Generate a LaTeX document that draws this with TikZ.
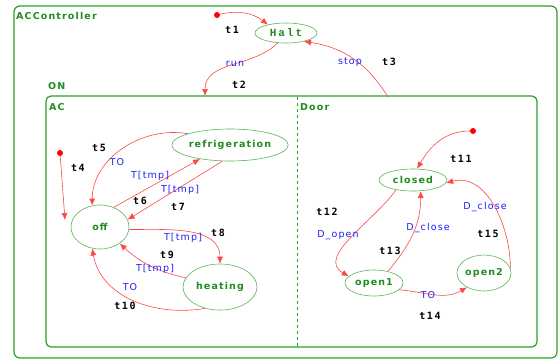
\documentclass[tikz,border=0pt]{standalone}
\usepackage{fontspec}
\setmainfont{DejaVu Sans}
\newfontfamily\statefont[LetterSpace=12]{DejaVu Sans}
\newfontfamily\haltfont[LetterSpace=18]{Liberation Mono}
\newfontfamily\evfont[LetterSpace=12]{DejaVu Sans}
\newfontfamily\tnfont[LetterSpace=15]{DejaVu Sans Mono}
\usetikzlibrary{shapes.geometric,arrows.meta}

\definecolor{boxgreen}{RGB}{40,160,40}
\definecolor{stgreen}{RGB}{90,180,90}
\definecolor{txtgreen}{RGB}{30,140,30}
\definecolor{trred}{RGB}{255,70,70}
\definecolor{evblue}{RGB}{30,30,250}

\tikzset{
    region/.style={draw=boxgreen, line width=1.2pt, rounded corners=6pt},
    regname/.style={anchor=west, text=txtgreen, inner sep=0pt,
        font=\statefont\bfseries\fontsize{9.5}{11}\selectfont},
    state/.style={ellipse, draw=stgreen, line width=0.6pt, text=txtgreen, inner sep=0pt,
        font=\statefont\bfseries\fontsize{9.5}{11}\selectfont},
    initdot/.style={circle, fill=red, inner sep=0pt, minimum size=6pt},
    trans/.style={draw=trred, line width=0.6pt, -{Latex[length=7pt,width=6pt]}},
    event/.style={text=evblue, inner sep=0pt, font=\evfont\fontsize{9.5}{11}\selectfont},
    tname/.style={text=black, inner sep=0pt, font=\tnfont\bfseries\fontsize{10}{11}\selectfont}
}

\begin{document}
\begin{tikzpicture}[x=1pt,y=1pt]
        \useasboundingbox (0,0) rectangle (560,-360);

        % regions
        \draw[region] (14,-6) rectangle (557,-358);
        \draw[region, rounded corners=5pt] (46,-96) rectangle (537,-347);
        \draw[boxgreen, dashed, line width=0.8pt] (297,-97) -- (297,-347);

        % region names
        \node[regname] (nctrl) at (16,-16) {ACController};
        \node[regname] (non) at (48,-86) {ON};
        \node[regname] (nac) at (49,-107) {AC};
        \node[regname] (ndoor) at (300,-107) {Door};

        % states
        \node[state, minimum width=62pt, minimum height=20pt, font=\haltfont\bfseries\fontsize{11}{12}\selectfont] (halt) at (286,-33) {Halt};
        \node[state, minimum width=102pt, minimum height=32pt] (refrig) at (230,-145) {refrigeration};
        \node[state, minimum width=58pt, minimum height=44pt] (off) at (100,-227) {off};
        \node[state, minimum width=74pt, minimum height=46pt] (heating) at (220,-287) {heating};
        \node[state, minimum width=68pt, minimum height=22pt] (closed) at (413,-180) {closed};
        \node[state, minimum width=58pt, minimum height=26pt] (open1) at (374,-283) {open1};
        \node[state, minimum width=54pt, minimum height=36pt] (open2) at (484,-273) {open2};

        % initial
        \node[initdot] (init1) at (217,-15) {};
        \node[initdot] (init4) at (60,-153) {};
        \node[initdot] (init11) at (473,-131) {};
        \coordinate (ontop) at (205,-96);
        \coordinate (doortop) at (388,-97);
        \coordinate (offin) at (65,-220);

        % top level
        \draw[trans] (init1) to[bend left=25] (halt.155);
        \draw[trans] (halt.230) to[out=225,in=90] (ontop);
        \draw[trans] (doortop) to[bend right=25] (halt.-25);

        % AC
        \draw[trans] (init4) -- (offin);
        \draw[trans] (refrig.165) to[out=170,in=90] (off.110);
        \draw[trans] (off.55) -- (refrig.205);
        \draw[trans] (refrig.245) -- (off.15);
        \draw[trans] (off.-5) to[out=0,in=90] (heating.north);
        \draw[trans] (heating.165) to[bend left=15] (off.-40);
        \draw[trans] (heating.235) to[out=190,in=-80] (off.250);

        % Door
        \draw[trans] (init11) to[out=180,in=60] (closed.70);
        \draw[trans] (closed.210) to[out=235,in=150] (open1.165);
        \draw[trans] (open1.40) to[out=50,in=-90] (closed.-55);
        \draw[trans] (open1.-15) to[out=-5,in=210] (open2.220);
        \draw[trans] (open2.10) to[out=90,in=15] (closed.-5);

        % events
        \node[event] (ev2) at (235,-64) {run};
        \node[event] (ev3) at (350,-62) {stop};
        \node[event] (ev5) at (117,-162) {TO};
        \node[event] (ev6) at (150,-176) {T[tmp]};
        \node[event] (ev7) at (180,-190) {T[tmp]};
        \node[event] (ev8) at (183,-238) {T[tmp]};
        \node[event] (ev9) at (155,-269) {T[tmp]};
        \node[event] (ev10) at (130,-287) {TO};
        \node[event] (ev12) at (338,-235) {D\_open};
        \node[event] (ev13) at (428,-228) {D\_close};
        \node[event] (ev14) at (428,-295) {TO};
        \node[event] (ev15) at (485,-207) {D\_close};

        % transition names
        \node[tname] (lt1) at (232,-30) {t1};
        \node[tname] (lt2) at (239,-85) {t2};
        \node[tname] (lt3) at (389,-62) {t3};
        \node[tname] (lt4) at (78,-168) {t4};
        \node[tname] (lt5) at (99,-148) {t5};
        \node[tname] (lt6) at (140,-201) {t6};
        \node[tname] (lt7) at (178,-207) {t7};
        \node[tname] (lt8) at (218,-233) {t8};
        \node[tname] (lt9) at (167,-255) {t9};
        \node[tname] (lt10) at (125,-306) {t10};
        \node[tname] (lt11) at (461,-159) {t11};
        \node[tname] (lt12) at (327,-212) {t12};
        \node[tname] (lt13) at (390,-251) {t13};
        \node[tname] (lt14) at (430,-316) {t14};
        \node[tname] (lt15) at (488,-234) {t15};
    \end{tikzpicture}
\end{document}
